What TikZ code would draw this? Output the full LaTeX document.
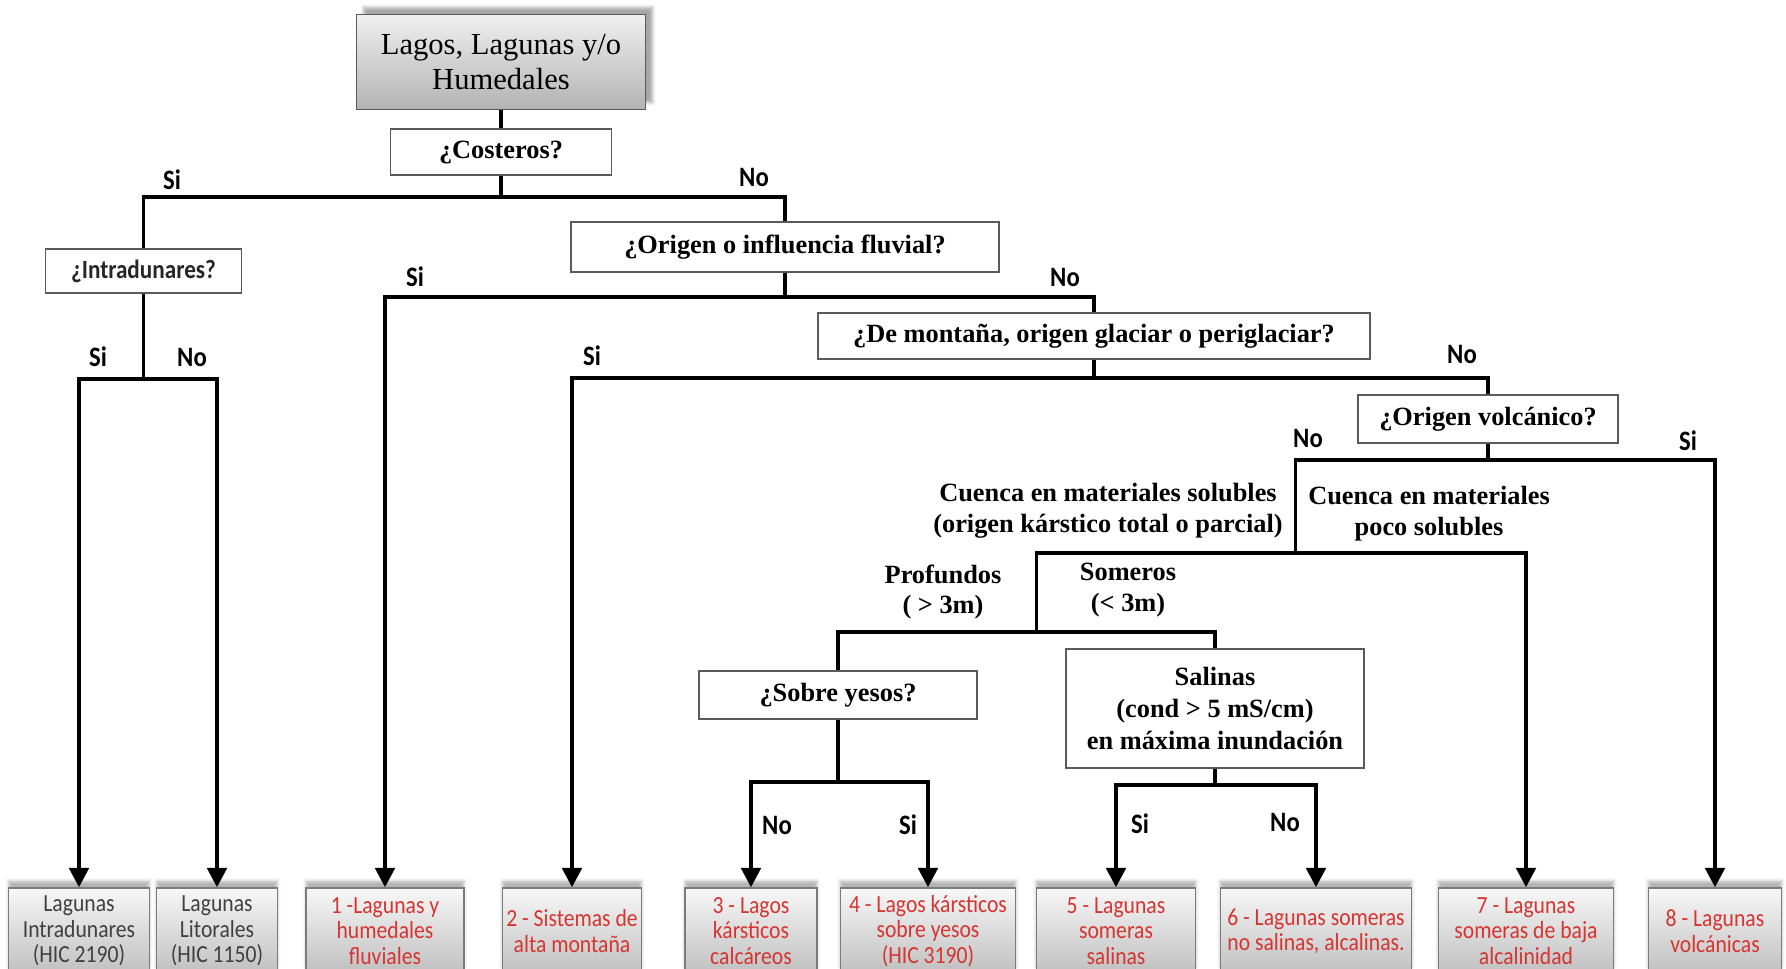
\documentclass[tikz,border=0pt]{standalone}
\usepackage{fontspec}
\setmainfont{Liberation Serif}
\newfontfamily\calib{Carlito}[FakeStretch=0.88]
\usetikzlibrary{arrows.meta,shadows.blur}
\definecolor{leafred}{RGB}{214,52,48}
\definecolor{edgegray}{RGB}{90,90,90}

\begin{document}
\begin{tikzpicture}[x=0.02cm,y=-0.02cm,>={Triangle[width=11pt,length=11pt]},
    branch/.style={line width=2.2pt},
    quest/.style={draw=edgegray,line width=1pt,fill=white,inner sep=0pt,align=center,
      font=\bfseries\fontsize{15}{18}\selectfont},
    topbox/.style={draw=edgegray,line width=1pt,top color=gray!12,bottom color=gray!60,
      align=center,inner sep=0pt,minimum width=5.78cm,minimum height=1.9cm,
      font=\fontsize{17.4}{20}\selectfont,
      blur shadow={shadow xshift=4pt,shadow yshift=4pt,shadow opacity=35}},
    leaf/.style={draw=edgegray!80,line width=0.8pt,top color=gray!6,bottom color=gray!50,
      align=center,inner sep=0pt,minimum height=1.72cm,text=leafred,
      font=\calib\fontsize{14}{14.5}\selectfont,
      blur shadow={shadow xshift=0pt,shadow yshift=4pt,shadow opacity=30}},
    lab/.style={font=\calib\bfseries\fontsize{16}{19}\selectfont},
    free/.style={align=center,font=\bfseries\fontsize{15}{17.5}\selectfont}]
  \useasboundingbox (0,0) rectangle (1786,968);
  \clip (0,0) rectangle (1786,968);

  % questions
  \node[topbox] (lagos) at (501,62) {Lagos, Lagunas y/o\\Humedales};
  \node[quest,minimum width=4.42cm,minimum height=0.92cm] (cost) at (501,152) {¿Costeros?};
  \node[quest,minimum width=3.92cm,minimum height=0.88cm,text=black!85,
    font=\calib\bfseries\fontsize{15}{18}\selectfont] (intr) at (143.5,271) {¿Intradunares?};
  \node[quest,minimum width=8.56cm,minimum height=1cm] (flu) at (785,247) {¿Origen o influencia fluvial?};
  \node[quest,minimum width=11.04cm,minimum height=0.92cm] (mont) at (1094,336) {¿De montaña, origen glaciar o periglaciar?};
  \node[quest,minimum width=5.2cm,minimum height=0.96cm] (volc) at (1488,419) {¿Origen volcánico?};
  \node[quest,minimum width=5.56cm,minimum height=0.96cm] (yesos) at (838,695) {¿Sobre yesos?};
  \node[quest,minimum width=5.96cm,minimum height=2.38cm] (sal) at (1215,708.5) {Salinas\\(cond > 5 mS/cm)\\en máxima inundación};

  \node[free] (solub) at (1108,511) {Cuenca en materiales solubles\\(origen kárstico total o parcial)};
  \node[free] (poco) at (1429,514) {Cuenca en materiales\\poco solubles};
  \node[free] (prof) at (943,592) {Profundos\\( > 3m)};
  \node[free] (somer) at (1128,590) {Someros\\(< 3m)};

  % end boxes
  \node[leaf,text=black!75,minimum width=2.81cm] (la) at (79,931) {Lagunas\\Intradunares\\(HIC 2190)};
  \node[leaf,text=black!75,minimum width=2.41cm] (lb) at (217,931) {Lagunas\\Litorales\\(HIC 1150)};
  \node[leaf,minimum width=3.16cm] (l1) at (385,931) {1 -Lagunas y\\humedales\\fluviales};
  \node[leaf,minimum width=2.78cm] (l2) at (572,931) {2 - Sistemas de\\alta montaña};
  \node[leaf,minimum width=2.64cm] (l3) at (751,931) {3 - Lagos\\kársticos\\calcáreos};
  \node[leaf,minimum width=3.51cm] (l4) at (928,931) {4 - Lagos kársticos\\sobre yesos\\(HIC 3190)};
  \node[leaf,minimum width=3.19cm] (l5) at (1116,931) {5 - Lagunas\\someras\\salinas};
  \node[leaf,minimum width=3.83cm] (l6) at (1316,931) {6 - Lagunas someras\\no salinas, alcalinas.};
  \node[leaf,minimum width=3.51cm] (l7) at (1526,931) {7 - Lagunas\\someras de baja\\alcalinidad};
  \node[leaf,minimum width=2.67cm] (l8) at (1715,931) {8 - Lagunas\\volcánicas};

  \coordinate (kno) at (1295.5,553);
  \coordinate (kdep) at (1036.5,632);

  % branches
  \draw[branch] (lagos) -- (cost);
  \draw[branch] (cost.south) -- ++(0,21) -| (intr.north);
  \draw[branch] (cost.south) -- ++(0,21) -| (flu.north);
  \draw[branch,->] (intr.south) -- ++(0,85) -| (la.north);
  \draw[branch,->] (intr.south) -- ++(0,85) -| (lb.north);
  \draw[branch,->] (flu.south) -- ++(0,24) -| (l1.north);
  \draw[branch] (flu.south) -- ++(0,24) -| (mont.north);
  \draw[branch,->] (mont.south) -- ++(0,18) -| (l2.north);
  \draw[branch] (mont.south) -- ++(0,18) -| (volc.north);
  \draw[branch] (volc.south) -- ++(0,16) -| (kno);
  \draw[branch,->] (volc.south) -- ++(0,16) -| (l8.north);
  \draw[branch] (kno) -| (kdep);
  \draw[branch,->] (kno) -| (l7.north);
  \draw[branch] (kdep) -| (yesos.north);
  \draw[branch] (kdep) -| (sal.north);
  \draw[branch,->] (yesos.south) -- ++(0,62) -| (l3.north);
  \draw[branch,->] (yesos.south) -- ++(0,62) -| (l4.north);
  \draw[branch,->] (sal.south) -- ++(0,16) -| (l5.north);
  \draw[branch,->] (sal.south) -- ++(0,16) -| (l6.north);

  % si / no
  \node[lab] (cSi) at (172,180) {Si};
  \node[lab] (cNo) at (754,177) {No};
  \node[lab] (iSi) at (98,357) {Si};
  \node[lab] (iNo) at (192,357) {No};
  \node[lab] (fSi) at (415,277) {Si};
  \node[lab] (fNo) at (1065,277) {No};
  \node[lab] (mSi) at (592,356) {Si};
  \node[lab] (mNo) at (1462,354) {No};
  \node[lab] (vNo) at (1308,438) {No};
  \node[lab] (vSi) at (1688,441) {Si};
  \node[lab] (yNo) at (777,825) {No};
  \node[lab] (ySi) at (908,825) {Si};
  \node[lab] (sSi) at (1140,824) {Si};
  \node[lab] (sNo) at (1285,822) {No};
\end{tikzpicture}
\end{document}
